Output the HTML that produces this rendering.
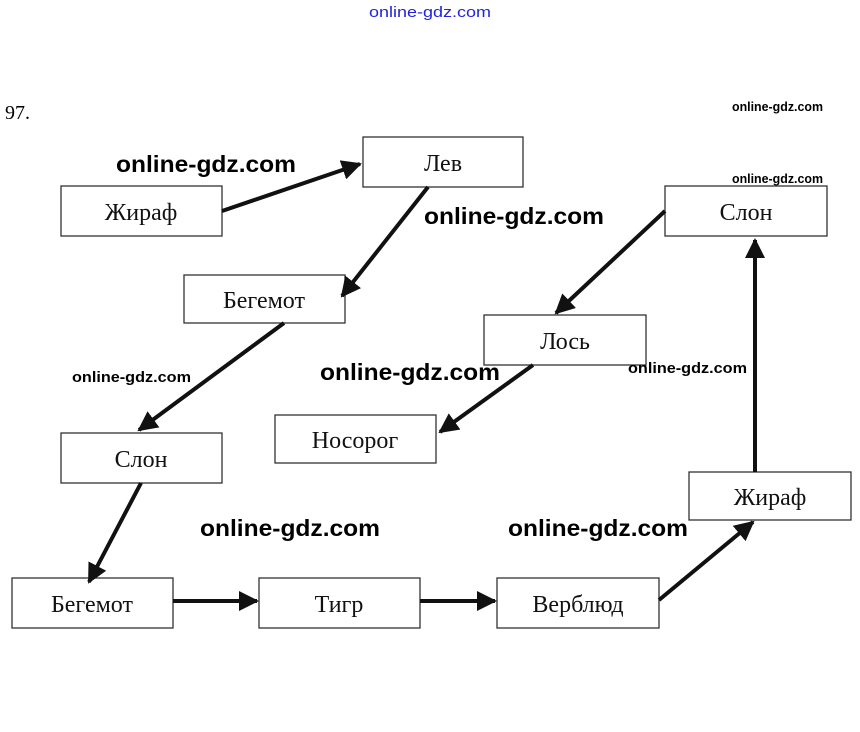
<!DOCTYPE html>
<html><head><meta charset="utf-8"><style>
html,body{margin:0;padding:0;background:#fff;}
svg{display:block;}
.b{fill:#fff;stroke:#333;stroke-width:1.3;}
.t{font-family:"Liberation Serif",serif;font-size:24px;fill:#111;text-anchor:middle;}
.w{font-family:"Liberation Sans",sans-serif;font-weight:bold;fill:#000;}
.a{stroke:#111;stroke-width:4;fill:none;marker-end:url(#ar);}
</style></head><body>
<svg width="860" height="732" viewBox="0 0 860 732" xmlns="http://www.w3.org/2000/svg">
<defs><marker id="ar" markerWidth="5" markerHeight="5" refX="4.5" refY="2.5" orient="auto" markerUnits="strokeWidth"><path d="M0,0 L5,2.5 L0,5 z" fill="#111"/></marker></defs>
<text x="369" y="17" font-family="Liberation Sans,sans-serif" font-size="15" fill="#2222dd" textLength="122" lengthAdjust="spacingAndGlyphs">online-gdz.com</text>
<text x="5" y="119" font-family="Liberation Serif,serif" font-size="20">97.</text>

<rect class="b" x="61" y="186" width="161" height="50"/><text class="t" x="141" y="220">Жираф</text>
<rect class="b" x="363" y="137" width="160" height="50" stroke="#999"/><text class="t" x="443" y="171" fill="#777">Лев</text>
<rect class="b" x="184" y="275" width="161" height="48"/><text class="t" x="264" y="308">Бегемот</text>
<rect class="b" x="665" y="186" width="162" height="50"/><text class="t" x="746" y="220">Слон</text>
<rect class="b" x="484" y="315" width="162" height="50"/><text class="t" x="565" y="349" fill="#777">Лось</text>
<rect class="b" x="275" y="415" width="161" height="48"/><text class="t" x="355" y="448">Носорог</text>
<rect class="b" x="61" y="433" width="161" height="50"/><text class="t" x="141" y="467">Слон</text>
<rect class="b" x="689" y="472" width="162" height="48"/><text class="t" x="770" y="505">Жираф</text>
<rect class="b" x="12" y="578" width="161" height="50"/><text class="t" x="92" y="612">Бегемот</text>
<rect class="b" x="259" y="578" width="161" height="50" stroke="#bbb"/><text class="t" x="339" y="612" fill="#555">Тигр</text>
<rect class="b" x="497" y="578" width="162" height="50" stroke="#999"/><text class="t" x="578" y="612" fill="#555">Верблюд</text>

<line class="a" x1="222" y1="211" x2="360" y2="164"/>
<line class="a" x1="428" y1="187" x2="342" y2="296"/>
<line class="a" x1="284" y1="323" x2="139" y2="430"/>
<line class="a" x1="141" y1="483" x2="89" y2="582"/>
<line class="a" x1="173" y1="601" x2="257" y2="601"/>
<line class="a" x1="420" y1="601" x2="495" y2="601"/>
<line class="a" x1="659" y1="600" x2="753" y2="522"/>
<line class="a" x1="755" y1="472" x2="755" y2="240"/>
<line class="a" x1="665" y1="211" x2="556" y2="313"/>
<line class="a" x1="533" y1="365" x2="440" y2="432"/>

<text class="w" x="116" y="172" font-size="23" textLength="180" lengthAdjust="spacingAndGlyphs">online-gdz.com</text>
<text class="w" x="424" y="224" font-size="23" textLength="180" lengthAdjust="spacingAndGlyphs">online-gdz.com</text>
<text class="w" x="320" y="380" font-size="23" textLength="180" lengthAdjust="spacingAndGlyphs">online-gdz.com</text>
<text class="w" x="200" y="536" font-size="23" textLength="180" lengthAdjust="spacingAndGlyphs">online-gdz.com</text>
<text class="w" x="508" y="536" font-size="23" textLength="180" lengthAdjust="spacingAndGlyphs">online-gdz.com</text>
<text class="w" x="72" y="382" font-size="15" font-weight="normal" textLength="119" lengthAdjust="spacingAndGlyphs">online-gdz.com</text>
<text class="w" x="628" y="373" font-size="15" font-weight="normal" textLength="119" lengthAdjust="spacingAndGlyphs">online-gdz.com</text>
<text class="w" x="732" y="111" font-size="13" font-weight="normal" textLength="91" lengthAdjust="spacingAndGlyphs">online-gdz.com</text>
<text class="w" x="732" y="183" font-size="13" font-weight="normal" textLength="91" lengthAdjust="spacingAndGlyphs">online-gdz.com</text>
</svg>
</body></html>
